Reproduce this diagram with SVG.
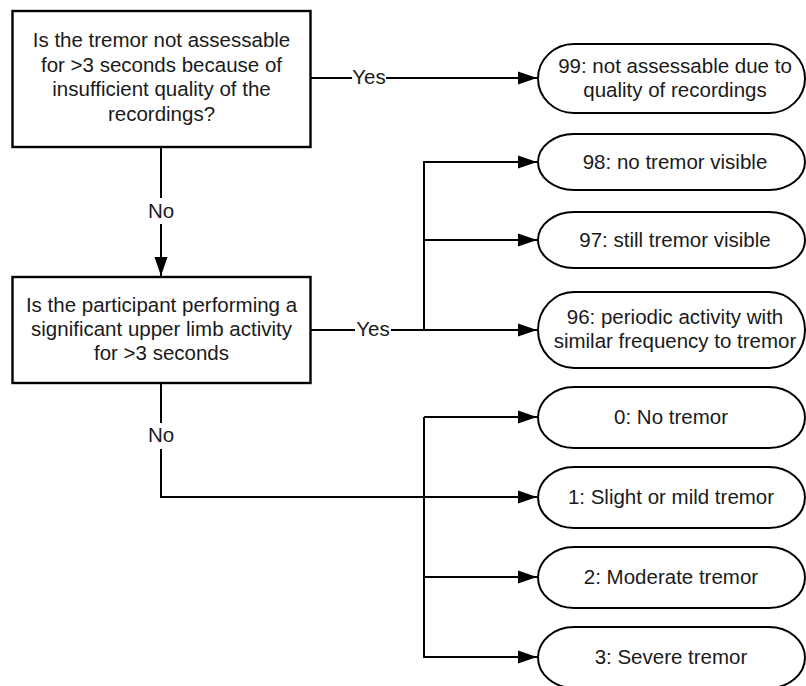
<svg xmlns="http://www.w3.org/2000/svg" width="806" height="686" viewBox="0 0 806 686">
<defs>
<marker id="arr" markerUnits="userSpaceOnUse" markerWidth="19" markerHeight="14" refX="19" refY="7" orient="auto">
<path d="M0,0.5 L19,7 L0,13.5 Z" fill="#000"/>
</marker>
<style>
.box{fill:#fff;stroke:#000;stroke-width:2.4}
.term{fill:#fff;stroke:#000;stroke-width:2}
.ln{fill:none;stroke:#000;stroke-width:2}
.t{font-family:"Liberation Sans",Arial,sans-serif;font-size:20.5px;fill:#1a1a1a;text-anchor:middle}
.bg{fill:#fff}
</style>
</defs>
<rect width="806" height="686" fill="#fff"/>
<g id="connectors">
<line class="ln" x1="311" y1="78" x2="537" y2="78" marker-end="url(#arr)"/>
<line class="ln" x1="161" y1="148" x2="161" y2="276" marker-end="url(#arr)"/>
<line class="ln" x1="311" y1="330" x2="537" y2="330" marker-end="url(#arr)"/>
<polyline class="ln" points="424,330 424,162 537,162" marker-end="url(#arr)"/>
<line class="ln" x1="424" y1="240" x2="537" y2="240" marker-end="url(#arr)"/>
<polyline class="ln" points="161,383 161,497 537,497" marker-end="url(#arr)"/>
<polyline class="ln" points="424,417 424,657 537,657" marker-end="url(#arr)"/>
<line class="ln" x1="424" y1="417" x2="537" y2="417" marker-end="url(#arr)"/>
<line class="ln" x1="424" y1="577" x2="537" y2="577" marker-end="url(#arr)"/>
<rect class="bg" x="352" y="68" width="34" height="20"/>
<text class="t" x="369" y="84">Yes</text>
<rect class="bg" x="355" y="320" width="36" height="20"/>
<text class="t" x="373" y="336">Yes</text>
<rect class="bg" x="147" y="198" width="28" height="26"/>
<text class="t" x="161" y="218">No</text>
<rect class="bg" x="147" y="423" width="28" height="26"/>
<text class="t" x="161" y="442">No</text>
</g>
<g id="q1">
<rect class="box" x="12.5" y="11" width="298" height="136"/>
<text class="t" x="161.5" y="47">Is the tremor not assessable</text>
<text class="t" x="161.5" y="71.5">for &gt;3 seconds because of</text>
<text class="t" x="161.5" y="96">insufficient quality of the</text>
<text class="t" x="161.5" y="120.5">recordings?</text>
</g>
<g id="q2">
<rect class="box" x="12.5" y="277" width="298" height="106"/>
<text class="t" x="161.5" y="312">Is the participant performing a</text>
<text class="t" x="161.5" y="336">significant upper limb activity</text>
<text class="t" x="161.5" y="360">for &gt;3 seconds</text>
</g>
<g id="t99">
<path class="term" d="M574,44 H769 A36,34.5 0 0 1 769,113 H574 A36,34.5 0 0 1 574,44 Z"/>
<text class="t" x="675" y="73">99: not assessable due to</text>
<text class="t" x="675" y="97">quality of recordings</text>
</g>
<g id="t98">
<path class="term" d="M574,134 H769 A36,28 0 0 1 769,190 H574 A36,28 0 0 1 574,134 Z"/>
<text class="t" x="675" y="169">98: no tremor visible</text>
</g>
<g id="t97">
<path class="term" d="M574,212 H769 A36,28 0 0 1 769,268 H574 A36,28 0 0 1 574,212 Z"/>
<text class="t" x="675" y="247">97: still tremor visible</text>
</g>
<g id="t96">
<path class="term" d="M574,292 H769 A36,38 0 0 1 769,368 H574 A36,38 0 0 1 574,292 Z"/>
<text class="t" x="675" y="324">96: periodic activity with</text>
<text class="t" x="675" y="348">similar frequency to tremor</text>
</g>
<g id="t0">
<path class="term" d="M574,387 H769 A36,30.5 0 0 1 769,448 H574 A36,30.5 0 0 1 574,387 Z"/>
<text class="t" x="671" y="424">0: No tremor</text>
</g>
<g id="t1">
<path class="term" d="M574,467 H769 A36,30.5 0 0 1 769,528 H574 A36,30.5 0 0 1 574,467 Z"/>
<text class="t" x="671" y="504">1: Slight or mild tremor</text>
</g>
<g id="t2">
<path class="term" d="M574,547 H769 A36,30.5 0 0 1 769,608 H574 A36,30.5 0 0 1 574,547 Z"/>
<text class="t" x="671" y="584">2: Moderate tremor</text>
</g>
<g id="t3">
<path class="term" d="M574,627 H769 A36,30.5 0 0 1 769,688 H574 A36,30.5 0 0 1 574,627 Z"/>
<text class="t" x="671" y="664">3: Severe tremor</text>
</g>
</svg>
